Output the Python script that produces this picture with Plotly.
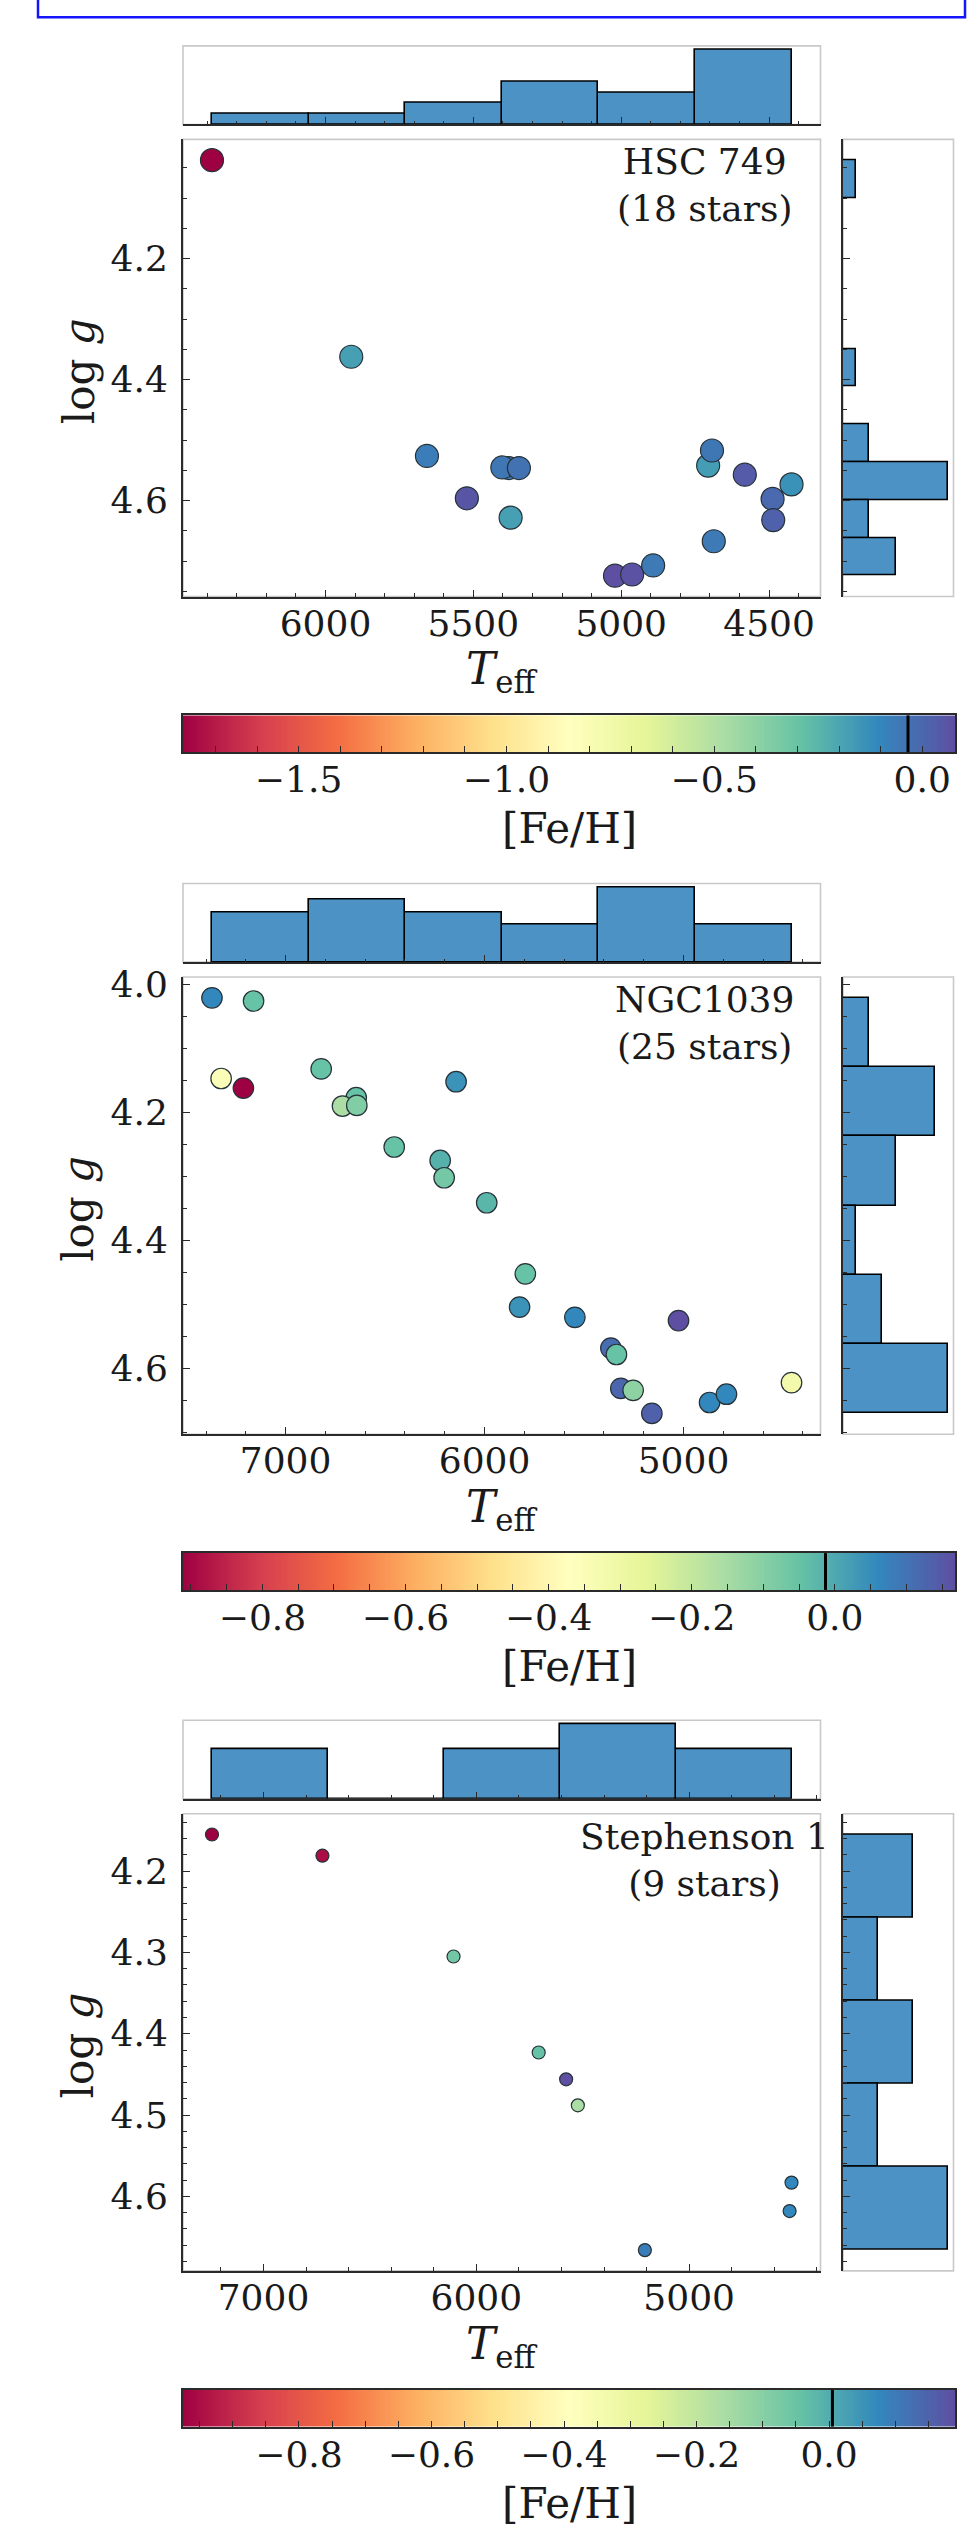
import numpy as np
import plotly.graph_objects as go

W, H = 976, 2542
FONT = "DejaVu Serif"
DARK = "#2a2a2a"
LIGHT = "#c9c9c9"
TXT = "#1a1a1a"
HIST_FILL = "rgb(77,146,197)"

# ---------------- star data (Teff [K], log g, [Fe/H]) ----------------
hsc749_teff = [5380, 6384, 5913, 5657, 5522, 5402, 5346, 5374, 5021, 4963,
               4892, 4706, 4693, 4687, 4582, 4488, 4486, 4424]
hsc749_logg = [4.546, 4.037, 4.362, 4.526, 4.596, 4.545, 4.546, 4.628, 4.724, 4.722,
               4.707, 4.542, 4.517, 4.667, 4.557, 4.597, 4.632, 4.573]
hsc749_feh = [-0.05, -1.778, -0.18, -0.07, 0.06, -0.05, -0.035, -0.18, 0.079, 0.07,
              -0.06, -0.17, -0.05, -0.06, 0.04, -0.005, 0.02, -0.14]

ngc1039_teff = [6645, 7370, 7161, 7324, 7212, 6821, 6714, 6642, 6143, 6454,
                6223, 6203, 5989, 5795, 5824, 5546, 5025, 5365, 5337, 5315,
                5253, 5159, 4869, 4784, 4457]
ngc1039_logg = [4.177, 4.021, 4.026, 4.147, 4.162, 4.132, 4.190, 4.189, 4.152, 4.254,
                4.275, 4.302, 4.341, 4.452, 4.504, 4.520, 4.525, 4.568, 4.578, 4.631,
                4.634, 4.670, 4.653, 4.640, 4.622]
ngc1039_feh = [-0.05, 0.06, -0.05, -0.35, -0.911, -0.05, -0.156, -0.09, 0.04, -0.05,
               -0.015, -0.07, -0.026, -0.05, 0.04, 0.06, 0.168, 0.114, -0.05, 0.125,
               -0.11, 0.136, 0.06, 0.06, -0.318]

steph1_teff = [7242, 6723, 6107, 5707, 5578, 5523, 5208, 4519, 4528]
steph1_logg = [4.155, 4.181, 4.305, 4.423, 4.456, 4.488, 4.666, 4.583, 4.618]
steph1_feh = [-0.975, -0.95, -0.066, -0.043, 0.19, -0.16, 0.097, 0.074, 0.074]

cluster_names = ["HSC 749", "NGC1039", "Stephenson 1"]
# reference metallicity marked on each colour bar
cluster_feh_ref = [-0.034, -0.013, 0.005]
# histogram bin counts (Teff, log g)
teff_bins = [6, 6, 5]
logg_bins = [11, 6, 5]
# tick spacing: (major, minor)
teff_ticks = [(500, 100), (1000, 200), (1000, 200)]
logg_ticks = [(0.2, 0.05), (0.2, 0.05), (0.1, 0.02)]
feh_ticks = [(0.5, 0.1), (0.2, 0.05), (0.2, 0.05)]
marker_sizes = [23, 20.5, 13]

clusters = [
    (hsc749_teff, hsc749_logg, hsc749_feh),
    (ngc1039_teff, ngc1039_logg, ngc1039_feh),
    (steph1_teff, steph1_logg, steph1_feh),
]

# ---------------- layout geometry (pixels) ----------------
panel_dy = [0, 842, 1683]
MAIN_X = (183, 820.5)
RHIST_X = (843, 953.5)
CBAR_X = (183, 955)
MAIN_Y = (127, 586.5)
THIST_Y = (33, 112)
CBAR_Y = (706, 743)


def px_x(x):
    return x / W


def px_y(y):
    return 1 - y / H


def ydom(a, b, dy):
    return [px_y(b + dy), px_y(a + dy)]


def lims(v):
    lo, hi = min(v), max(v)
    pad = 0.05 * (hi - lo)
    return lo - pad, hi + pad


def key(kind, i):
    return f"{kind}axis" if i == 1 else f"{kind}axis{i}"


def ref(kind, i):
    return kind if i == 1 else f"{kind}{i}"


fig = go.Figure()
layout = {}
shapes = []
annotations = []

tickfont = dict(family=FONT, size=36, color=TXT)

for p, (teff, logg, feh) in enumerate(clusters):
    dy = panel_dy[p]
    i_main, i_top, i_right, i_cb = 4 * p + 1, 4 * p + 2, 4 * p + 3, 4 * p + 4
    t_lo, t_hi = lims(teff)
    g_lo, g_hi = lims(logg)
    cmin, cmax = min(feh), max(feh)
    tmaj, tmin = teff_ticks[p]
    gmaj, gmin = logg_ticks[p]
    fmaj, fmin = feh_ticks[p]

    # --- scatter of stars coloured by [Fe/H]
    fig.add_trace(go.Scatter(
        x=teff, y=logg, mode="markers",
        marker=dict(size=marker_sizes[p], color=feh, colorscale="Spectral",
                    cmin=cmin, cmax=cmax, showscale=False,
                    line=dict(color="#263238", width=1.2)),
        xaxis=ref("x", i_main), yaxis=ref("y", i_main), showlegend=False,
        hoverinfo="skip"))

    # --- marginal histograms
    t_counts, t_edges = np.histogram(teff, bins=teff_bins[p])
    g_counts, g_edges = np.histogram(logg, bins=logg_bins[p])
    fig.add_trace(go.Bar(
        x=(t_edges[:-1] + t_edges[1:]) / 2, y=t_counts, width=np.diff(t_edges),
        marker=dict(color=HIST_FILL, line=dict(color="black", width=1.6)),
        xaxis=ref("x", i_top), yaxis=ref("y", i_top), showlegend=False,
        hoverinfo="skip"))
    fig.add_trace(go.Bar(
        y=(g_edges[:-1] + g_edges[1:]) / 2, x=g_counts, width=np.diff(g_edges),
        orientation="h",
        marker=dict(color=HIST_FILL, line=dict(color="black", width=1.6)),
        xaxis=ref("x", i_right), yaxis=ref("y", i_right), showlegend=False,
        hoverinfo="skip"))

    # --- colour bar drawn as a gradient strip
    grid = np.linspace(cmin, cmax, 400)
    fig.add_trace(go.Heatmap(
        x=grid, y=[0, 1], z=[grid, grid], colorscale="Spectral",
        zmin=cmin, zmax=cmax, showscale=False,
        xaxis=ref("x", i_cb), yaxis=ref("y", i_cb), hoverinfo="skip"))

    minor_x = dict(dtick=tmin, tick0=0, ticks="inside", ticklen=3.5,
                   tickwidth=1.2, tickcolor=DARK, showgrid=False)
    minor_y = dict(dtick=gmin, tick0=0, ticks="inside", ticklen=3.5,
                   tickwidth=1.2, tickcolor=DARK, showgrid=False)
    base_x = dict(range=[t_hi, t_lo], dtick=tmaj, tick0=0, ticks="inside",
                  ticklen=7, tickwidth=1.4, tickcolor=DARK, minor=minor_x,
                  showline=True, linecolor=DARK, linewidth=2,
                  showgrid=False, zeroline=False, tickformat="d")
    base_y = dict(range=[g_hi, g_lo], dtick=gmaj, tick0=0, ticks="inside",
                  ticklen=7, tickwidth=1.4, tickcolor=DARK, minor=minor_y,
                  showline=True, linecolor=DARK, linewidth=2,
                  showgrid=False, zeroline=False, tickformat=".1f")

    layout[key("x", i_main)] = dict(
        base_x, domain=[px_x(MAIN_X[0]), px_x(MAIN_X[1])],
        anchor=ref("y", i_main), tickfont=tickfont, ticklabelstandoff=-6)
    layout[key("y", i_main)] = dict(
        base_y, domain=ydom(*MAIN_Y, dy),
        anchor=ref("x", i_main), tickfont=tickfont, ticklabelstandoff=6)

    layout[key("x", i_top)] = dict(
        base_x, domain=[px_x(MAIN_X[0]), px_x(MAIN_X[1])],
        anchor=ref("y", i_top), showticklabels=False)
    layout[key("y", i_top)] = dict(
        domain=ydom(*THIST_Y, dy), anchor=ref("x", i_top),
        range=[0, 1.05 * t_counts.max()], showticklabels=False, ticks="",
        showline=False, showgrid=False, zeroline=False)

    layout[key("x", i_right)] = dict(
        domain=[px_x(RHIST_X[0]), px_x(RHIST_X[1])], anchor=ref("y", i_right),
        range=[0, 1.05 * g_counts.max()], showticklabels=False, ticks="",
        showline=False, showgrid=False, zeroline=False)
    layout[key("y", i_right)] = dict(
        base_y, domain=ydom(*MAIN_Y, dy),
        anchor=ref("x", i_right), showticklabels=False)

    layout[key("x", i_cb)] = dict(
        domain=[px_x(CBAR_X[0]), px_x(CBAR_X[1])], anchor=ref("y", i_cb),
        range=[cmin, cmax], dtick=fmaj, tick0=0, ticks="inside", ticklen=6,
        tickwidth=1.4, tickcolor=DARK, tickformat=".1f",
        minor=dict(dtick=fmin, tick0=0, ticks="inside", ticklen=6,
                   tickwidth=1.2, tickcolor=DARK, showgrid=False),
        showline=True, mirror=True, linecolor=DARK, linewidth=2,
        showgrid=False, zeroline=False, tickfont=tickfont,
        ticklabelstandoff=-5)
    layout[key("y", i_cb)] = dict(
        domain=ydom(*CBAR_Y, dy), anchor=ref("x", i_cb), range=[0, 1],
        showticklabels=False, ticks="", showline=True, mirror=True,
        linecolor=DARK, linewidth=2, showgrid=False, zeroline=False)

    # light frames around the panels
    for i in (i_main, i_top, i_right):
        shapes.append(dict(type="rect", xref=f"{ref('x', i)} domain",
                           yref=f"{ref('y', i)} domain", x0=0, x1=1, y0=0, y1=1,
                           line=dict(color=LIGHT, width=1.6), layer="below"))

    # reference metallicity on the colour bar
    shapes.append(dict(type="line", xref=ref("x", i_cb),
                       yref=f"{ref('y', i_cb)} domain",
                       x0=cluster_feh_ref[p], x1=cluster_feh_ref[p], y0=0, y1=1,
                       line=dict(color="black", width=3), layer="above"))

    # text labels
    annotations.append(dict(
        text=f"{cluster_names[p]}<br>({len(teff)} stars)",
        xref="paper", yref="paper", x=px_x(704), y=px_y(127 + dy),
        xanchor="center", yanchor="top", showarrow=False, align="center",
        font=dict(family=FONT, size=36, color=TXT)))
    annotations.append(dict(
        text="<i>T</i><sub>eff</sub>", xref="paper", yref="paper",
        x=px_x(502), y=px_y(662 + dy), xanchor="center", yanchor="middle",
        showarrow=False, font=dict(family=FONT, size=44, color=TXT)))
    annotations.append(dict(
        text="log <i>g</i>", xref="paper", yref="paper",
        x=px_x(79), y=px_y(360 + dy), xanchor="center", yanchor="middle",
        textangle=-90, showarrow=False,
        font=dict(family=FONT, size=42, color=TXT)))
    annotations.append(dict(
        text="[Fe/H]", xref="paper", yref="paper",
        x=px_x(569), y=px_y(820 + dy), xanchor="center", yanchor="middle",
        showarrow=False, font=dict(family=FONT, size=42, color=TXT)))

# partial blue frame along the top edge
shapes.append(dict(type="rect", xref="paper", yref="paper",
                   x0=px_x(38), x1=px_x(965), y0=px_y(4.3), y1=px_y(-20),
                   line=dict(color="#1414ff", width=2.5), layer="above"))

fig.update_layout(
    width=W, height=H, margin=dict(l=0, r=0, t=0, b=0),
    paper_bgcolor="white", plot_bgcolor="rgba(0,0,0,0)",
    bargap=0, shapes=shapes, annotations=annotations, **layout)

fig.write_html("out.html")
